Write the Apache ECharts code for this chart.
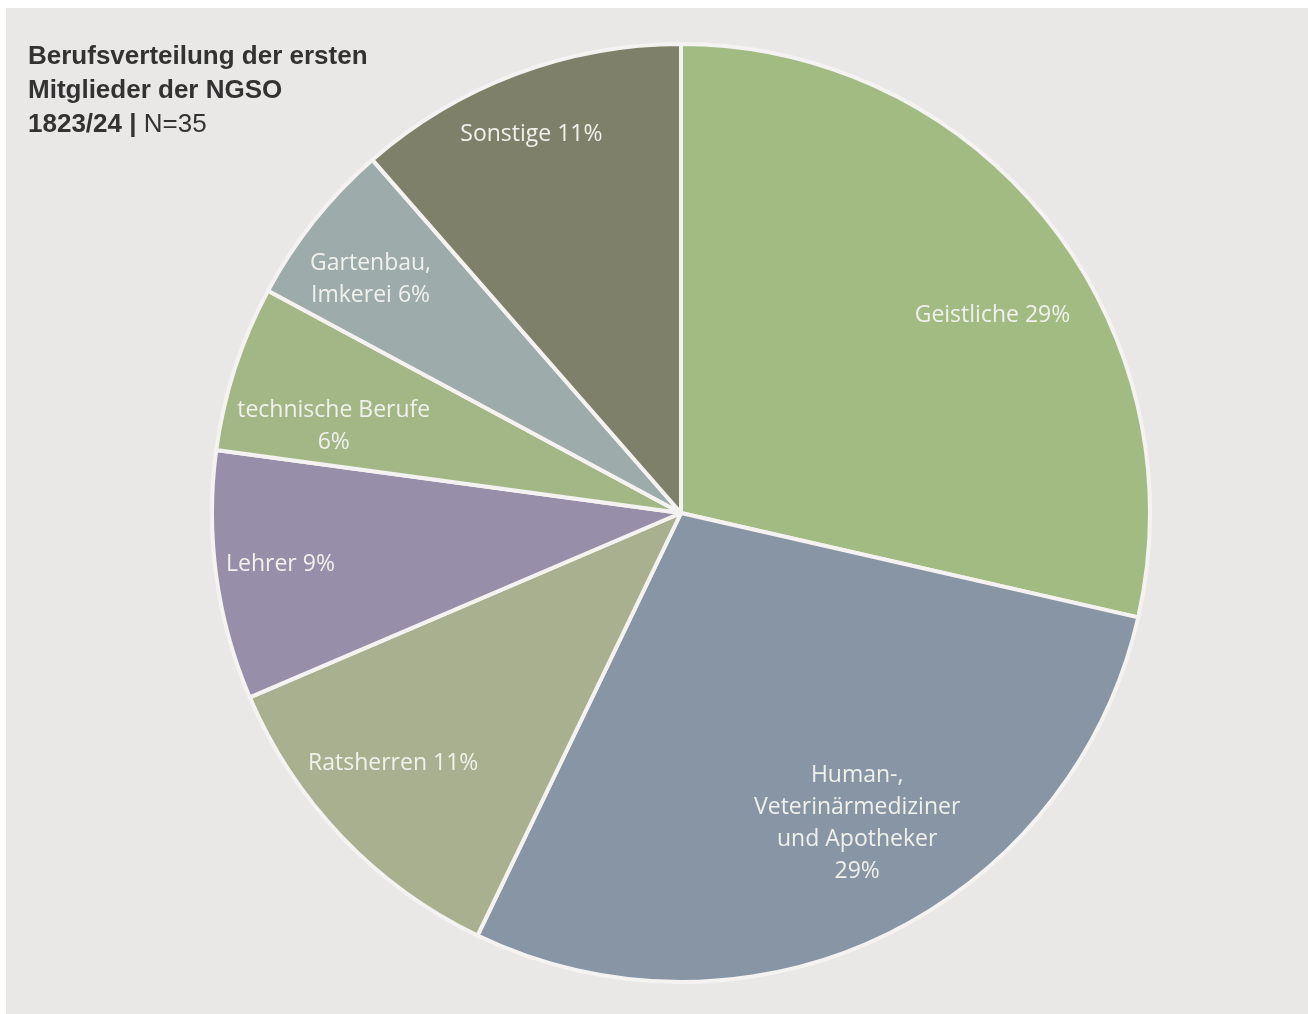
<!DOCTYPE html>
<html>
<head>
<meta charset="utf-8">
<script src="https://cdn.jsdelivr.net/npm/echarts@6/dist/echarts.min.js"></script>
<style>
  html, body { margin: 0; padding: 0; background: #ffffff; }
  #chart { position: absolute; left: 6px; top: 8px; width: 1302px; height: 1006px; background: #e9e8e7; }
</style>
</head>
<body>
<div id="chart"></div>
<script>
// counts out of N=35
const categories = ['Geistliche', 'Human-,\nVeterinärmediziner\nund Apotheker', 'Ratsherren', 'Lehrer', 'technische Berufe\n', 'Gartenbau,\nImkerei', 'Sonstige'];
const counts = [10, 10, 4, 3, 2, 2, 4];
const percentLabels = ['29%', '29%', '11%', '9%', '6%', '6%', '11%'];
const sliceColors = ['#a2bb83', '#8795a5', '#a9b08f', '#978fa9', '#a3b686', '#9eabab', '#7e806a'];
// nudges so labels sit where the original had them
const labelNudge = [[12, 41], [10, -35], [-11, -14], [-21, 0], [17, 32], [-11, 5], [-15, -20]];

const chart = echarts.init(document.getElementById('chart'));

const pieData = categories.map((name, i) => ({
  name: name,
  value: counts[i],
  itemStyle: { color: sliceColors[i] }
}));

function labelText(i) {
  const n = categories[i];
  if (n.endsWith('\n')) return n + percentLabels[i];
  if (i === 1) return n + '\n' + percentLabels[i];
  return n + ' ' + percentLabels[i];
}

var option = {
  animation: false,
  title: {
    left: 17,
    top: 27,
    text: '{b|Berufsverteilung der ersten}\n{b|Mitglieder der NGSO}\n{b|1823/24 | }{n|N=35}',
    textStyle: {
      rich: {
        b: { fontFamily: 'Liberation Sans', fontWeight: 'bold', fontSize: 26, color: '#333232', lineHeight: 34 },
        n: { fontFamily: 'Liberation Sans', fontWeight: 'normal', fontSize: 26, color: '#333232', lineHeight: 34 }
      }
    }
  },
  series: [
    {
      type: 'pie',
      center: [675, 505],
      radius: [0, 469],
      startAngle: 90,
      clockwise: true,
      silent: true,
      label: { show: false },
      labelLine: { show: false },
      itemStyle: { borderColor: '#f4f3f1', borderWidth: 4 },
      data: pieData
    },
    {
      type: 'pie',
      center: [675, 505],
      radius: [300, 460],
      startAngle: 90,
      clockwise: true,
      silent: true,
      itemStyle: { color: 'rgba(0,0,0,0)' },
      labelLine: { show: false },
      label: {
        show: true,
        position: 'inside',
        color: '#f1f1ec',
        fontFamily: 'Open Sans',
        fontSize: 23,
        lineHeight: 32,
        formatter: function (p) { return labelText(p.dataIndex); }
      },
      data: categories.map((name, i) => ({
        name: name,
        value: counts[i],
        label: { offset: labelNudge[i] }
      }))
    }
  ]
};

option && chart.setOption(option);
</script>
</body>
</html>
